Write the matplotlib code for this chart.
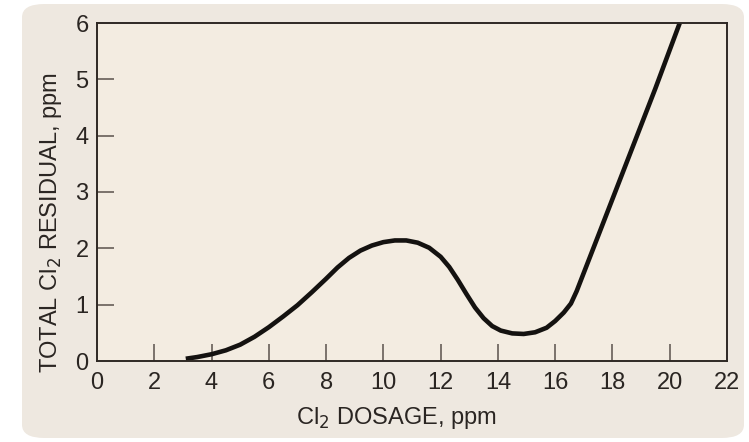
import numpy as np
import matplotlib
matplotlib.use("Agg")
import matplotlib.pyplot as plt
from matplotlib.patches import FancyBboxPatch

# breakpoint chlorination curve
dosage = [3.1, 3.5, 4.0, 4.5, 5.0, 5.5, 6.0, 6.5, 7.0, 7.5, 8.0, 8.4, 8.8,
          9.2, 9.6, 10.0, 10.4, 10.8, 11.2, 11.6, 12.0, 12.3, 12.6, 12.9,
          13.2, 13.5, 13.8, 14.1, 14.5, 14.9, 15.3, 15.7, 16.0, 16.3, 16.55,
          16.75, 17.5, 18.5, 19.5, 20.35]
residual = [0.04, 0.07, 0.12, 0.19, 0.29, 0.43, 0.60, 0.79, 0.99, 1.22, 1.46,
            1.66, 1.83, 1.96, 2.05, 2.11, 2.14, 2.14, 2.10, 2.01, 1.85, 1.67,
            1.44, 1.19, 0.95, 0.76, 0.62, 0.54, 0.49, 0.48, 0.51, 0.59, 0.71,
            0.86, 1.02, 1.24, 2.22, 3.53, 4.84, 6.00]

x_ticks = list(range(0, 23, 2))
y_ticks = list(range(0, 7))

plt.rcParams['font.family'] = ['Liberation Sans', 'DejaVu Sans']
fig = plt.figure(figsize=(7.49, 4.42), dpi=100)
fig.patch.set_facecolor("white")

# rounded slide background
panel = FancyBboxPatch((22 / 749, 4 / 442), 722 / 749, 434 / 442,
                       boxstyle="round,pad=0,rounding_size=0.03",
                       transform=fig.transFigure, facecolor="#eee8e0",
                       edgecolor="none", zorder=-10)
panel.set_figure(fig)
fig.patches.append(panel)

ax = fig.add_axes([97 / 749, 1 - 361 / 442, 630 / 749, 338 / 442])
ax.set_zorder(1)
ax.set_facecolor("#f3ece1")

ax.plot(dosage, residual, color="#141210", lw=3.3,
        solid_capstyle="butt", solid_joinstyle="round", clip_on=False)

ax.set_xlim(0, 22)
ax.set_ylim(0, 6)
ax.set_xticks(x_ticks)
ax.set_yticks(y_ticks)

edge = "#2e2824"
for s in ax.spines.values():
    s.set_color(edge)
    s.set_linewidth(1.4)

ax.tick_params(direction="in", length=12, width=1.1, color="#5a524c",
               labelsize=17, labelcolor="#2a2522")
ax.tick_params(axis="x", pad=8)
ax.tick_params(axis="y", pad=6)

# no tick marks at the corners
for t in ax.xaxis.get_major_ticks()[::len(x_ticks) - 1]:
    t.tick1line.set_visible(False)
for t in ax.yaxis.get_major_ticks()[::len(y_ticks) - 1]:
    t.tick1line.set_visible(False)

ax.set_xlabel("Cl$_2$ DOSAGE, ppm", fontsize=17, color="#2a2522")
ax.set_ylabel("TOTAL Cl$_2$ RESIDUAL, ppm", fontsize=17, color="#2a2522")
ax.xaxis.set_label_coords(0.476, -0.13)
ax.yaxis.set_label_coords(-0.053, 0.41)

fig.savefig("out.png", dpi=100, facecolor=fig.get_facecolor())
